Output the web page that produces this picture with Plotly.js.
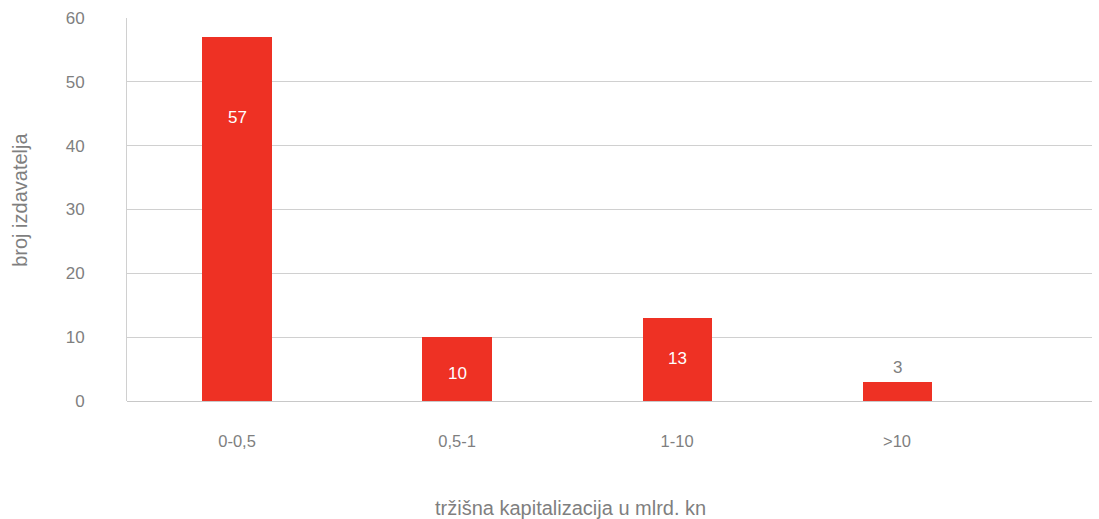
<!DOCTYPE html>
<html><head><meta charset="utf-8">
<script src="https://cdn.plot.ly/plotly-3.0.1.min.js"></script>
<style>html,body{margin:0;padding:0;background:#fff}#c{width:1099px;height:519px}</style>
</head><body><div id="c"></div>
<script>
const categories = ["0-0,5", "0,5-1", "1-10", ">10"];
const values = [57, 10, 13, 3];
const xTitle = "tržišna kapitalizacija u mlrd. kn";
const yTitle = "broj izdavatelja";
const labelShift = [-80, -36, -40, 14];
const labelColor = ["#ffffff", "#ffffff", "#ffffff", "#7f7f7f"];

const font = "Liberation Sans, Arial, sans-serif";
const grey = "#7f7f7f";

const annotations = values.map((v, i) => ({
  x: categories[i], y: v, xref: "x", yref: "y",
  text: String(v), showarrow: false, yanchor: "middle",
  yshift: labelShift[i], font: {family: font, size: 17, color: labelColor[i]}
}));
annotations.push({
  xref: "paper", yref: "paper", x: 0.46, y: -0.279, xanchor: "center", yanchor: "middle",
  text: xTitle, showarrow: false, font: {family: font, size: 20, color: grey}
});
annotations.push({
  xref: "paper", yref: "paper", x: -0.111, y: 0.525, xanchor: "center", yanchor: "middle",
  text: yTitle, showarrow: false, textangle: -90, font: {family: font, size: 20, color: grey}
});

Plotly.newPlot("c", [{
  type: "bar", x: categories, y: values, width: 0.314,
  marker: {color: "#ee3124"}, hoverinfo: "x+y"
}], {
  width: 1099, height: 519,
  margin: {l: 127, r: 7, t: 18, b: 118},
  paper_bgcolor: "#fff", plot_bgcolor: "#fff",
  showlegend: false,
  bargap: 0,
  xaxis: {
    type: "category", range: [-0.5, 3.886], showgrid: false,
    showline: false, zeroline: false, ticks: "",
    ticklabelstandoff: 28,
    tickfont: {family: font, size: 16.5, color: grey}
  },
  yaxis: {
    range: [0, 60], dtick: 10, tick0: 0,
    showgrid: true, gridcolor: "#d0d0d0", gridwidth: 1,
    zeroline: true, zerolinecolor: "#c8c8c8", zerolinewidth: 1,
    showline: true, linecolor: "#d0d0d0", linewidth: 1,
    ticks: "", ticklabelstandoff: 38,
    tickfont: {family: font, size: 17, color: grey}
  },
  annotations: annotations
}, {displayModeBar: false, staticPlot: true});
</script></body></html>
